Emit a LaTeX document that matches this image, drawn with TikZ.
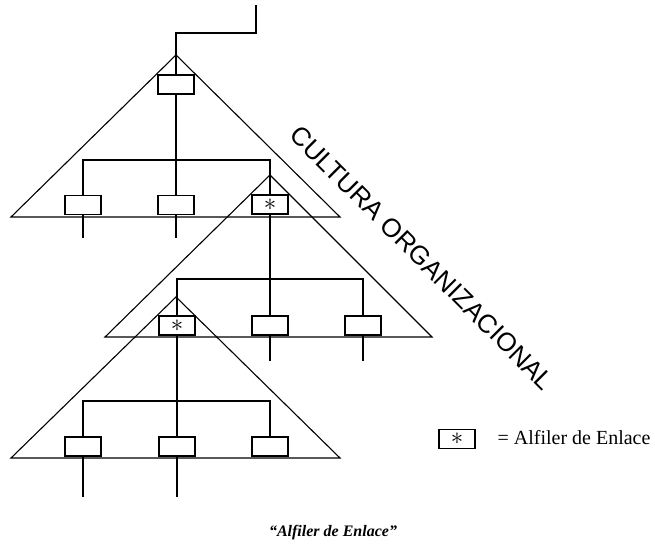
\documentclass[tikz,border=0pt]{standalone}
\usepackage{fontspec}
\setmainfont{Liberation Serif}
\newfontfamily\sansf{Liberation Sans}
\begin{document}
\begin{tikzpicture}[x=1pt,y=-1pt,
  every path/.style={line width=1.2pt},
  unit/.style={draw, line width=1.2pt, fill=white, minimum width=36pt, minimum height=19pt, inner sep=0pt},
  pin/.style={unit, font=\fontsize{24}{24}\selectfont},
  pyramid/.style={line width=1.1pt, line join=miter}
]
\useasboundingbox (0,0) rectangle (655,548);

% apex points of the three overlapping groups
\coordinate (a1) at (176,55);
\coordinate (a2) at (270,175);
\coordinate (a3) at (176,297);

% group outlines
\draw[pyramid] (a1) -- ++(-165,162) -- ++(329,0) -- cycle;
\draw[pyramid] (a2) -- ++(-165,162) -- ++(327,0) -- cycle;
\draw[pyramid] (a3) -- ++(-165,161) -- ++(329,0) -- cycle;

% units
\node[unit] (b1)  at (176,84.5) {};
\node[unit] (b11) at (83,205) {};
\node[unit] (b12) at (176,205) {};
\node[pin]  (p1)  at (270,204.5) {$\ast$};
\node[pin]  (p2)  at (177,325.5) {$\ast$};
\node[unit] (b22) at (270,325.5) {};
\node[unit] (b23) at (363,325.5) {};
\node[unit] (b31) at (83,446.5) {};
\node[unit] (b32) at (177,446.5) {};
\node[unit] (b33) at (270,446.5) {};

% incoming line from above
\coordinate (top) at (256,5);
\draw (top) -- ++(0,28) -| (b1.north);

% first group
\draw (b1.south) -- (b12.north);
\draw (b11.north) |- (176,160) -| (p1.north);
\draw (b11.south) -- ++(0,23);
\draw (b12.south) -- ++(0,23);

% second group
\draw (p1.south) -- (b22.north);
\draw (p2.north) |- (270,279) -| (b23.north);
\draw (b22.south) -- ++(0,25);
\draw (b23.south) -- ++(0,25);

% third group
\draw (p2.south) -- (b32.north);
\draw (b31.north) |- (177,401) -| (b33.north);
\draw (b31.south) -- ++(0,40);
\draw (b32.south) -- ++(0,40);

% diagonal title
\node[rotate=-45, inner sep=0pt, font=\sansf\fontsize{26}{26}\selectfont] (title) at (422,258) {CULTURA ORGANIZACIONAL};

% legend
\node[pin] (lg) at (457,439) {$\ast$};
\node[anchor=base west, inner sep=0pt, font=\fontsize{20}{20}\selectfont] (lgt) at (497,444) {= Alfiler de Enlace};

% caption
\node[font=\bfseries\itshape\fontsize{16}{16}\selectfont] (cap) at (333,533) {“Alfiler de Enlace”};
\end{tikzpicture}
\end{document}
